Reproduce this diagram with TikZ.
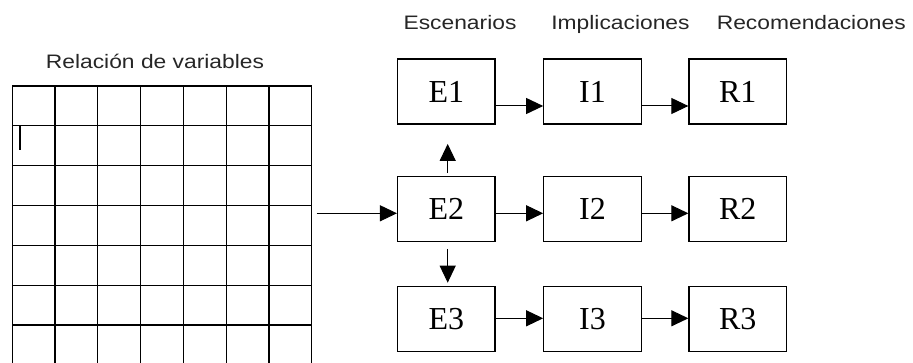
\documentclass[tikz,border=0pt]{standalone}
\usepackage{fontspec}
\setmainfont{Liberation Serif}
\newfontfamily\hdrfont[FakeStretch=1.17]{Liberation Sans}
\usetikzlibrary{arrows.meta}
\begin{document}
\begin{tikzpicture}[x=1pt,y=-1pt,
  box/.style={draw, line width=1.2pt, minimum width=97.5pt, minimum height=65pt, inner sep=0pt, font=\fontsize{32}{36}\selectfont},
  hdr/.style={anchor=base, inner sep=0pt, text=black!85, font=\hdrfont\fontsize{19.5}{22}\selectfont},
  conn/.style={line width=1pt, -{Triangle[length=17pt,width=16pt]}},
  gridline/.style={line width=1.2pt}]
\useasboundingbox (0,0) rectangle (913,363);
% grid "Relacion de variables"
\foreach \i in {0,...,7} \draw[gridline] ({12.3+\i*42.77},85.4) -- ({12.3+\i*42.77},363);
\foreach \j in {0,...,6} \draw[gridline] (12.3,{86+\j*39.83}) -- (311.7,{86+\j*39.83});
\draw[line width=2.6pt] (19.8,126) -- (19.8,150);
% headers
\node[hdr] (hrel) at (155,68.3) {Relación de variables};
\node[hdr] (hesc) at (460,29.3) {Escenarios};
\node[hdr] (himp) at (620.5,29.3) {Implicaciones};
\node[hdr] (hrec) at (811.3,29.3) {Recomendaciones};
% boxes
\node[box] (E1) at (446.3,91.5) {E1};
\node[box] (I1) at (592.5,91.5) {I1};
\node[box] (R1) at (737.7,91.5) {R1};
\node[box] (E2) at (446.3,209.2) {E2};
\node[box] (I2) at (592.5,209.2) {I2};
\node[box] (R2) at (737.7,209.2) {R2};
\node[box] (E3) at (446.3,319.2) {E3};
\node[box] (I3) at (592.5,319.2) {I3};
\node[box] (R3) at (737.7,319.2) {R3};
% connectors
\coordinate (gridout) at (316.7,213.3);
\draw[conn] (gridout) -- (E2.west |- gridout);
\draw[conn] ([yshift=-14.5pt]E1.east) -- ([yshift=-14.5pt]I1.west);
\draw[conn] ([yshift=-14.5pt]I1.east) -- ([yshift=-14.5pt]R1.west);
\draw[conn] ([yshift=-4.1pt]E2.east) -- ([yshift=-4.1pt]I2.west);
\draw[conn] ([yshift=-4.1pt]I2.east) -- ([yshift=-4.1pt]R2.west);
\draw[conn] ([yshift=0.9pt]E3.east) -- ([yshift=0.9pt]I3.west);
\draw[conn] ([yshift=0.9pt]I3.east) -- ([yshift=0.9pt]R3.west);
\draw[conn] ([xshift=1.4pt,yshift=3.4pt]E2.north) -- ([xshift=1.4pt,yshift=-19.3pt]E1.south);
\draw[conn] ([xshift=1.4pt,yshift=-6.6pt]E2.south) -- ([xshift=1.4pt,yshift=3.4pt]E3.north);
\end{tikzpicture}
\end{document}
